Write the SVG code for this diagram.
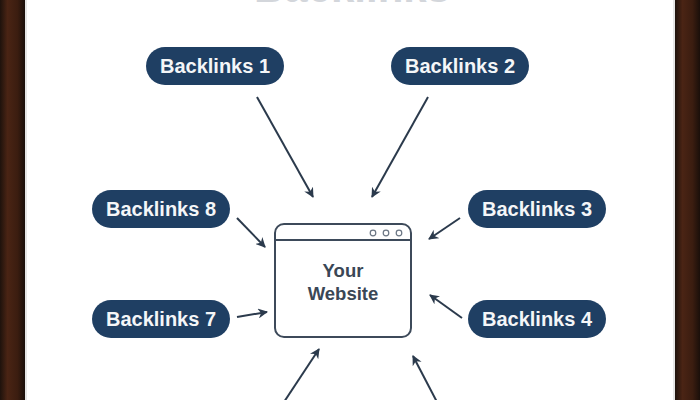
<svg xmlns="http://www.w3.org/2000/svg" width="700" height="400" viewBox="0 0 700 400">
<defs>
<linearGradient id="wood" x1="0" y1="0" x2="1" y2="0">
<stop offset="0" stop-color="#1e120c"/>
<stop offset="0.3" stop-color="#4a2414"/>
<stop offset="0.7" stop-color="#3b1d10"/>
<stop offset="1" stop-color="#1a0f0a"/>
</linearGradient>
<marker id="ah" viewBox="0 0 10 10" refX="9" refY="5" markerWidth="5" markerHeight="5" orient="auto" markerUnits="strokeWidth">
<path d="M0,0 L10,5 L0,10 L3,5 Z" fill="#2b3a4c"/>
</marker>
<style>
.pill{fill:#1f3f63}
.pt{font-family:"Liberation Sans",Arial,sans-serif;font-weight:bold;font-size:20px;fill:#f4f6f8;text-anchor:middle}
.conn line{stroke:#2b3a4c;stroke-width:2;marker-end:url(#ah)}
.win{fill:#ffffff;stroke:#3d4a5a;stroke-width:2}
.wt{font-family:"Liberation Sans",Arial,sans-serif;font-weight:bold;font-size:18.5px;fill:#3a4756;text-anchor:middle}
</style>
</defs>
<rect x="0" y="0" width="700" height="400" fill="#ffffff"/>
<rect x="0" y="0" width="25" height="400" fill="url(#wood)"/>
<rect x="25" y="0" width="2" height="400" fill="#e6e6e6"/>
<rect x="675" y="0" width="25" height="400" fill="url(#wood)"/>
<rect x="673" y="0" width="2" height="400" fill="#e6e6e6"/>
<text x="352" y="1.5" font-family="Liberation Sans,Arial,sans-serif" font-weight="bold" font-size="42" fill="#d3d6db" text-anchor="middle">Backlinks</text>
<g id="connectors" class="conn">
<line x1="257" y1="97" x2="313" y2="197"/>
<line x1="428" y1="97" x2="372" y2="197"/>
<line x1="237" y1="218" x2="265" y2="247"/>
<line x1="237" y1="317" x2="267" y2="312"/>
<line x1="460" y1="218" x2="429" y2="239"/>
<line x1="462" y1="318" x2="430" y2="295"/>
<line x1="284" y1="402" x2="319" y2="349"/>
<line x1="437" y1="402" x2="413" y2="356"/>
</g>
<g id="website">
<rect class="win" x="275" y="224" width="136" height="113" rx="9"/>
<line x1="275" y1="240" x2="411" y2="240" stroke="#3d4a5a" stroke-width="2"/>
<circle cx="373" cy="233" r="2.8" fill="none" stroke="#6b7684" stroke-width="1.2"/>
<circle cx="386" cy="233" r="2.8" fill="none" stroke="#6b7684" stroke-width="1.2"/>
<circle cx="399" cy="233" r="2.8" fill="none" stroke="#6b7684" stroke-width="1.2"/>
<text class="wt" x="343" y="277">Your</text>
<text class="wt" x="343" y="300">Website</text>
</g>
<g id="backlinks1"><rect class="pill" x="146" y="47" width="138" height="38" rx="19"/><text class="pt" x="215" y="73">Backlinks 1</text></g>
<g id="backlinks2"><rect class="pill" x="391" y="47" width="138" height="38" rx="19"/><text class="pt" x="460" y="73">Backlinks 2</text></g>
<g id="backlinks3"><rect class="pill" x="468" y="190" width="138" height="38" rx="19"/><text class="pt" x="537" y="216">Backlinks 3</text></g>
<g id="backlinks4"><rect class="pill" x="468" y="300" width="138" height="38" rx="19"/><text class="pt" x="537" y="326">Backlinks 4</text></g>
<g id="backlinks7"><rect class="pill" x="92" y="300" width="138" height="38" rx="19"/><text class="pt" x="161" y="326">Backlinks 7</text></g>
<g id="backlinks8"><rect class="pill" x="92" y="190" width="138" height="38" rx="19"/><text class="pt" x="161" y="216">Backlinks 8</text></g>
</svg>
